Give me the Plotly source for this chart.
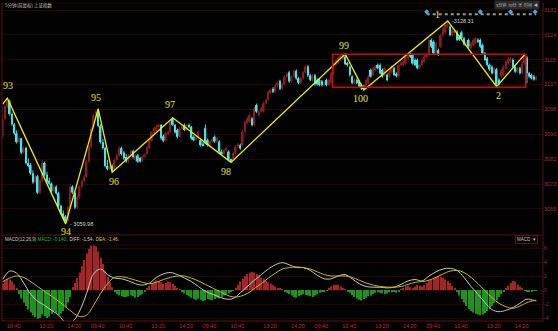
import plotly.graph_objects as go

# ---------------- data ----------------
open_ = [
 3089.5,3095.5,3099.5,3101.3,3097.0,3093.5,3090.5,3087.5,3088.8,3084.0,
 3085.5,3080.5,3079.8,3077.0,3074.0,3076.0,3070.5,3074.5,3080.5,3076.5,
 3074.5,3073.5,3071.0,3072.5,3070.3,3066.0,3063.5,3062.5,3061.0,3065.5,
 3072.5,3070.5,3065.5,3069.0,3072.5,3074.5,3075.8,3081.0,3086.0,3092.5,
 3096.5,3097.8,3093.0,3087.5,3085.5,3079.5,3078.5,3079.5,3078.0,3081.5,
 3083.0,3085.5,3084.0,3082.5,3081.0,3083.0,3084.5,3081.5,3083.0,3082.2,
 3081.0,3082.6,3083.5,3085.5,3088.0,3090.6,3091.2,3092.6,3093.3,3089.5,
 3088.2,3090.5,3091.0,3095.3,3093.3,3091.6,3089.5,3092.0,3093.3,3091.6,
 3093.3,3092.7,3089.3,3088.2,3089.0,3088.2,3087.0,3092.2,3088.2,3086.5,
 3087.7,3089.3,3087.7,3087.7,3084.3,3083.5,3084.9,3084.3,3081.5,3081.5,
 3083.8,3086.0,3086.5,3086.5,3091.0,3094.0,3094.4,3095.5,3093.3,3100.0,
 3096.6,3097.8,3097.8,3100.6,3101.7,3104.0,3105.4,3104.5,3106.5,3108.0,
 3105.5,3107.0,3109.5,3111.0,3108.0,3109.5,3111.5,3109.0,3107.5,3109.0,
 3111.0,3113.0,3110.0,3108.5,3110.0,3108.5,3108.4,3108.0,3106.7,3108.4,
 3106.8,3107.5,3110.7,3113.5,3114.2,3115.4,3115.5,3116.3,3114.0,3112.9,
 3109.6,3107.4,3108.4,3107.9,3106.7,3106.2,3105.7,3107.3,3111.8,3110.1,
 3111.8,3113.5,3113.5,3111.8,3110.1,3110.1,3109.6,3111.0,3112.4,3110.5,
 3109.6,3113.5,3113.5,3114.0,3115.7,3117.0,3116.9,3115.2,3115.2,3112.4,
 3113.5,3114.6,3116.0,3117.0,3121.9,3121.3,3117.4,3118.5,3119.7,3123.5,
 3124.5,3126.5,3126.4,3123.6,3124.5,3124.7,3123.0,3124.5,3122.5,3120.5,
 3121.9,3119.1,3120.2,3120.8,3122.0,3121.9,3120.2,3117.4,3115.7,3113.5,
 3112.9,3110.7,3112.0,3108.5,3109.6,3110.1,3112.4,3114.0,3114.6,3115.2,
 3112.9,3111.2,3112.4,3110.7,3114.0,3116.0,3110.7,3110.1,3109.6,3108.6]
close = [
 3095.5,3099.5,3101.5,3097.0,3093.5,3090.5,3087.5,3088.8,3084.0,3085.5,
 3080.5,3079.5,3077.0,3074.0,3076.0,3070.5,3074.5,3080.5,3076.5,3074.0,
 3073.5,3071.0,3072.5,3070.3,3066.0,3063.5,3062.0,3061.0,3065.5,3072.5,
 3070.5,3065.5,3069.0,3072.5,3074.5,3075.8,3081.0,3086.0,3092.0,3096.5,
 3097.8,3093.0,3087.5,3085.5,3079.5,3078.5,3079.5,3078.0,3081.5,3083.0,
 3085.5,3083.5,3082.0,3081.0,3083.0,3084.5,3082.5,3083.0,3081.0,3081.0,
 3082.6,3083.3,3085.8,3088.0,3090.8,3092.2,3092.6,3093.3,3088.8,3088.0,
 3090.5,3091.0,3094.8,3093.3,3090.8,3089.3,3092.0,3092.8,3091.6,3093.3,
 3092.7,3088.8,3088.2,3089.0,3091.0,3086.5,3086.5,3087.1,3086.5,3087.7,
 3088.5,3087.7,3088.8,3084.3,3083.5,3084.9,3085.4,3081.5,3081.2,3083.8,
 3086.0,3086.8,3085.4,3091.0,3094.4,3095.5,3096.6,3093.3,3098.9,3097.8,
 3097.8,3099.0,3100.6,3101.7,3104.5,3105.1,3104.5,3106.5,3107.5,3105.5,
 3107.0,3109.5,3110.5,3108.0,3109.5,3111.5,3109.0,3107.5,3109.0,3111.0,
 3113.0,3110.0,3108.5,3110.0,3107.0,3107.0,3106.8,3106.7,3107.6,3106.8,
 3108.4,3110.7,3113.8,3115.2,3116.0,3116.6,3117.0,3113.8,3113.5,3110.1,
 3107.4,3108.4,3107.4,3106.2,3105.6,3105.7,3108.4,3109.6,3109.6,3112.4,
 3112.9,3112.4,3110.7,3109.6,3112.4,3108.4,3111.2,3112.9,3110.1,3109.8,
 3113.5,3114.0,3114.6,3116.3,3116.9,3116.3,3114.0,3113.5,3112.4,3113.5,
 3115.2,3116.3,3117.0,3121.9,3119.7,3117.4,3120.8,3116.9,3123.5,3125.8,
 3127.0,3127.2,3123.6,3125.3,3125.0,3121.9,3122.0,3122.5,3120.5,3121.3,
 3119.7,3120.8,3121.9,3122.5,3121.3,3119.7,3117.4,3115.2,3113.5,3112.0,
 3110.7,3112.4,3107.0,3107.3,3111.8,3112.9,3114.6,3115.5,3115.7,3112.9,
 3111.2,3112.4,3110.7,3114.0,3117.0,3110.7,3109.6,3109.0,3108.6,3109.4]
high = [
 3096.5,3100.2,3102.3,3101.8,3097.5,3094.0,3091.5,3089.5,3089.0,3086.2,
 3086.0,3082.0,3080.5,3078.0,3076.5,3076.5,3075.0,3081.5,3081.0,3077.5,
 3075.5,3074.0,3073.0,3073.0,3070.8,3066.5,3064.5,3063.0,3066.0,3073.5,
 3073.0,3071.0,3069.5,3073.0,3075.0,3076.5,3081.5,3086.5,3092.5,3097.0,
 3098.3,3098.7,3093.5,3088.5,3086.0,3081.5,3080.0,3080.0,3082.0,3084.0,
 3086.2,3086.0,3084.5,3083.5,3083.5,3085.0,3085.0,3083.5,3083.5,3082.6,
 3083.0,3083.8,3086.3,3088.5,3091.3,3092.8,3093.2,3093.8,3093.6,3090.0,
 3091.0,3091.6,3095.2,3095.7,3093.6,3092.0,3092.5,3093.3,3093.8,3093.8,
 3093.8,3093.0,3089.8,3089.6,3091.5,3088.7,3087.6,3093.5,3088.7,3088.2,
 3089.0,3089.8,3089.3,3088.2,3085.0,3085.4,3085.9,3084.8,3082.0,3084.3,
 3086.5,3087.3,3087.0,3091.5,3094.9,3096.0,3097.1,3096.0,3099.4,3100.5,
 3098.3,3099.5,3101.1,3102.2,3105.0,3105.6,3106.0,3107.0,3108.0,3108.5,
 3107.5,3110.0,3111.0,3111.5,3110.0,3112.0,3112.0,3109.5,3109.5,3111.5,
 3113.5,3113.5,3110.5,3110.5,3110.5,3109.0,3108.9,3108.5,3108.2,3108.9,
 3108.9,3111.2,3114.3,3115.7,3116.5,3117.0,3117.2,3117.2,3114.5,3113.3,
 3110.0,3108.9,3108.9,3108.4,3107.2,3106.8,3108.9,3110.1,3112.3,3112.9,
 3113.4,3114.0,3114.0,3112.3,3112.9,3110.6,3111.7,3113.4,3112.9,3111.0,
 3114.0,3114.5,3115.1,3116.8,3117.4,3117.5,3117.4,3115.7,3115.7,3114.0,
 3115.7,3116.8,3117.5,3122.4,3122.4,3121.8,3121.3,3119.0,3124.0,3126.3,
 3127.5,3128.31,3126.8,3125.8,3125.5,3125.2,3123.5,3125.0,3123.0,3121.8,
 3122.4,3121.3,3122.4,3123.0,3122.5,3122.4,3120.7,3117.9,3116.2,3114.0,
 3113.4,3112.9,3112.5,3109.0,3112.3,3113.4,3115.1,3116.0,3116.2,3115.7,
 3113.4,3112.9,3112.9,3114.5,3117.5,3116.5,3111.2,3110.6,3110.1,3109.9]
low = [
 3088.5,3095.0,3099.0,3096.5,3093.0,3090.0,3087.0,3087.0,3083.5,3083.5,
 3080.0,3079.0,3076.5,3073.5,3073.5,3070.0,3070.0,3074.0,3076.0,3073.5,
 3073.0,3070.5,3070.5,3069.8,3065.5,3063.0,3061.5,3059.98,3060.5,3065.0,
 3070.0,3065.0,3065.0,3068.5,3072.0,3074.0,3075.5,3080.5,3085.5,3092.0,
 3095.5,3092.5,3087.0,3085.0,3079.0,3078.0,3078.0,3077.4,3077.8,3081.0,
 3082.5,3083.0,3081.5,3080.5,3080.5,3082.5,3082.0,3081.0,3080.5,3080.6,
 3080.8,3082.2,3083.2,3085.2,3087.6,3090.2,3090.8,3092.0,3088.3,3087.5,
 3087.8,3089.9,3090.6,3092.9,3090.4,3088.8,3089.0,3091.5,3091.2,3091.2,
 3092.2,3088.3,3087.8,3087.9,3088.6,3086.0,3086.0,3086.8,3086.0,3086.2,
 3087.3,3087.3,3087.2,3083.9,3083.0,3083.2,3084.3,3081.0,3080.7,3081.2,
 3083.5,3085.5,3085.0,3086.0,3090.6,3093.5,3094.0,3092.8,3092.8,3097.3,
 3096.1,3097.4,3097.4,3100.2,3101.3,3103.6,3104.0,3104.0,3106.0,3105.0,
 3105.0,3106.5,3109.0,3107.5,3107.5,3109.0,3108.5,3107.0,3107.0,3108.5,
 3110.5,3109.5,3108.0,3108.0,3106.5,3106.5,3106.3,3106.2,3106.3,3106.3,
 3106.4,3107.0,3110.2,3113.0,3113.8,3115.0,3115.2,3113.4,3113.0,3109.6,
 3107.0,3107.0,3107.0,3105.8,3105.1,3105.1,3105.3,3107.0,3109.2,3109.8,
 3111.4,3112.0,3110.3,3109.2,3109.6,3108.0,3109.2,3110.6,3109.7,3109.3,
 3109.2,3113.0,3113.0,3113.6,3115.3,3115.8,3113.6,3113.0,3112.0,3112.0,
 3113.0,3114.2,3115.6,3116.6,3119.2,3117.0,3117.0,3116.5,3119.2,3123.0,
 3124.0,3126.0,3123.2,3123.2,3124.0,3121.5,3121.6,3122.0,3120.0,3120.0,
 3119.2,3118.7,3119.8,3120.4,3120.9,3119.2,3117.0,3114.8,3113.0,3111.5,
 3110.3,3110.3,3106.2,3106.8,3109.2,3109.7,3112.0,3113.6,3114.2,3112.5,
 3110.8,3110.8,3110.3,3110.3,3113.6,3107.4,3109.2,3108.6,3108.2,3108.2]

macd_hist = [
 0.9,1.3,1.6,1.5,1.2,0.8,0.3,-0.6,-1.2,-1.8,
 -2.3,-2.8,-3.2,-3.6,-3.9,-4.1,-4.0,-3.5,-3.7,-4.0,
 -3.8,-3.4,-3.0,-3.3,-3.6,-3.4,-3.0,-2.5,-1.8,-1.0,
 0.4,1.0,1.7,2.5,3.4,4.3,5.2,5.9,6.4,6.6,
 6.2,5.5,4.6,3.7,2.8,1.9,1.1,0.4,-0.3,-0.6,
 -0.8,-0.9,-1.0,-1.0,-0.9,-0.8,-0.9,-1.1,-1.0,-0.8,
 -0.6,-0.3,0.2,0.6,0.9,1.2,1.4,1.3,1.1,0.9,
 1.0,1.2,1.1,0.9,0.6,0.3,0.1,-0.2,-0.5,-0.7,
 -0.9,-1.1,-1.3,-1.4,-1.2,-1.4,-1.6,-1.5,-1.3,-1.4,
 -1.5,-1.3,-1.1,-1.2,-1.0,-0.8,-0.6,-0.5,-0.3,-0.1,
 0.3,0.7,1.2,1.6,2.0,2.3,2.5,2.6,2.5,2.3,
 2.1,1.8,1.6,1.3,1.1,0.9,0.7,0.5,0.3,0.2,
 0.1,-0.2,-0.4,-0.6,-0.8,-1.0,-1.1,-0.9,-0.7,-0.6,
 -0.7,-0.8,-0.9,-1.0,-0.8,-0.6,-0.4,-0.3,-0.2,-0.1,
 0.2,0.5,0.7,0.8,0.7,0.5,0.3,0.1,-0.2,-0.4,
 -0.7,-1.0,-1.2,-1.4,-1.5,-1.3,-1.1,-0.9,-0.8,-0.6,
 -0.4,-0.3,-0.4,-0.5,-0.6,-0.5,-0.3,-0.2,-0.3,-0.4,
 -0.2,0.1,0.3,0.5,0.6,0.4,0.3,0.5,0.7,0.6,
 0.5,0.7,1.0,1.3,1.5,1.6,1.8,2.0,1.9,1.7,
 1.5,1.3,1.0,0.6,0.2,-0.3,-0.8,-1.3,-1.8,-2.3,
 -2.7,-3.0,-3.2,-3.4,-3.5,-3.6,-3.5,-3.3,-3.0,-2.7,
 -2.3,-1.9,-1.5,-1.0,-0.6,-0.2,0.2,0.6,1.0,1.3,
 1.2,0.8,0.5,0.2,-0.1,-0.2,-0.2,-0.15,-0.14,-0.14]

line_bars = list(range(0, 229, 3)) + [229]
diff_vals = [
 1.5,2.7,2.4,1.0,-0.6,-1.6,-2.2,-2.9,-3.6,-4.6,
 -4.5,-3.0,-0.5,2.3,3.0,2.2,1.7,1.6,1.3,0.9,
 0.7,1.0,1.8,2.3,2.5,2.2,1.7,1.2,0.5,-0.2,
 -0.6,-1.0,-1.3,-1.2,-0.4,0.5,1.4,2.2,3.0,3.6,
 3.9,3.6,3.2,3.2,2.8,2.1,1.6,1.6,2.0,2.2,
 1.6,0.9,0.5,0.4,0.4,0.3,0.4,0.8,1.3,1.5,
 1.3,2.0,2.6,3.0,3.1,2.8,1.8,0.5,-0.6,-1.8,
 -2.8,-3.1,-2.9,-2.5,-1.9,-1.3,-1.5,-1.54]
dea_vals = [
 1.2,1.7,2.0,1.8,1.2,0.5,-0.2,-0.9,-1.6,-2.4,
 -3.2,-3.8,-3.6,-2.2,-0.5,0.9,1.8,1.9,1.7,1.4,
 1.1,0.9,1.1,1.5,1.8,2.0,2.0,1.7,1.3,0.8,
 0.3,-0.2,-0.7,-1.0,-0.9,-0.5,0.2,0.9,1.7,2.4,
 3.0,3.2,3.3,3.2,3.0,2.6,2.2,2.0,2.0,2.0,
 1.8,1.4,1.0,0.7,0.5,0.4,0.4,0.5,0.8,1.1,
 1.2,1.4,1.8,2.3,2.7,2.8,2.5,1.8,0.9,-0.1,
 -1.1,-1.9,-2.4,-2.6,-2.3,-1.8,-1.5,-1.46]

zig_bars = [0, 2, 27, 41, 47, 73, 98, 147, 155, 191, 212, 224]
zig_prices = [3100.3, 3102.3, 3059.98, 3098.7, 3077.4, 3095.7, 3080.7,
              3117.2, 3105.1, 3128.31, 3106.2, 3117.0]
zig_labels = ["", "93", "94", "95", "96", "97", "98", "99", "100", "1", "2", ""]

box_bars = [141.6, 224.5]
box_prices = [3106.0, 3117.1]

high_bar, high_price = 191, 3128.31
low_bar, low_price = 27, 3059.98

info_bars = [182, 205, 218, 228.5]
info_price = 3130.6

time_tick_bars = [3, 17, 29, 39, 51, 65, 77, 87, 99, 113, 125, 135, 147, 161,
                  173, 183, 195, 209, 221]
time_tick_text = ["10:40", "13:20", "14:20", "09:40", "10:40", "13:20", "14:20",
                  "09:40", "10:40", "13:20", "14:20", "09:40", "10:40", "13:20",
                  "14:20", "09:40", "10:40", "13:20", "14:20"]
price_tick_vals = [3132.0, 3123.6, 3115.25, 3106.9, 3098.5, 3090.1, 3081.75,
                   3073.4, 3065.0]
price_tick_text = ["3132", "3124", "3115", "3107", "3098", "3090", "3082",
                   "3073", "3065"]
macd_tick_vals = [6, 4, 2, 0, -2, -4]
macd_tick_text = ["6", "4", "2", "0", "-2", "-4"]

assert len(open_) == len(close) == len(high) == len(low) == len(macd_hist) == 230
assert len(diff_vals) == len(dea_vals) == len(line_bars)

# ---------------- styling ----------------
W, H = 558, 331
ML, MR, MT, MB = 2, 15, 3, 10
PH = H - MT - MB
def py(pix):          # pixel row -> paper fraction
    return (H - MB - pix) / PH
def px(pix):          # pixel column -> paper fraction
    return (pix - ML) / (W - ML - MR)

RED_UP = "#8a1c1c"
CYAN = "#46e4ea"
GRID = "#270505"
BORDER = "#5c1212"
YEL = "#f2f000"

bars = list(range(len(close)))
fig = go.Figure()

# candle wicks
for up, col in ((True, RED_UP), (False, CYAN)):
    xs, ys = [], []
    for i in bars:
        if (close[i] >= open_[i]) == up:
            xs += [i, i, None]
            ys += [low[i], high[i], None]
    fig.add_trace(go.Scatter(x=xs, y=ys, mode="lines", xaxis="x2", yaxis="y2",
                             line=dict(color=col, width=1), hoverinfo="skip",
                             showlegend=False))
# candle bodies
for up, col in ((True, RED_UP), (False, CYAN)):
    idx = [i for i in bars if (close[i] >= open_[i]) == up]
    base = [min(open_[i], close[i]) for i in idx]
    hgt = [max(abs(close[i] - open_[i]), 0.3) for i in idx]
    fig.add_trace(go.Bar(x=idx, y=hgt, base=base, width=0.72, xaxis="x2", yaxis="y2",
                         marker=dict(color=col, line=dict(width=0)),
                         hoverinfo="skip", showlegend=False))

# zigzag wave line
fig.add_trace(go.Scatter(x=zig_bars, y=zig_prices, mode="lines", xaxis="x2", yaxis="y2",
                         line=dict(color=YEL, width=1.3), hoverinfo="skip",
                         showlegend=False))

# info marker row at top
fig.add_trace(go.Scatter(x=[info_bars[0], bars[-1]], y=[info_price, info_price],
                         mode="lines", xaxis="x2", yaxis="y2",
                         line=dict(color="#9a9a9a", width=2, dash="dot"),
                         hoverinfo="skip", showlegend=False))
fig.add_trace(go.Scatter(x=info_bars, y=[info_price + 0.8] * len(info_bars),
                         mode="markers", xaxis="x2", yaxis="y2",
                         marker=dict(color="#4aa6e6", size=4, symbol="diamond"),
                         hoverinfo="skip", showlegend=False))

# MACD histogram
pos = [i for i in bars if macd_hist[i] >= 0]
neg = [i for i in bars if macd_hist[i] < 0]
fig.add_trace(go.Bar(x=pos, y=[macd_hist[i] for i in pos], width=0.45,
                     marker=dict(color="#a82424", line=dict(width=0)),
                     xaxis="x", yaxis="y", hoverinfo="skip", showlegend=False))
fig.add_trace(go.Bar(x=neg, y=[macd_hist[i] for i in neg], width=0.45,
                     marker=dict(color="#1c941c", line=dict(width=0)),
                     xaxis="x", yaxis="y", hoverinfo="skip", showlegend=False))
fig.add_trace(go.Scatter(x=line_bars, y=diff_vals, mode="lines", xaxis="x", yaxis="y",
                         line=dict(color="#c8c8c8", width=1, shape="spline"),
                         hoverinfo="skip", showlegend=False))
fig.add_trace(go.Scatter(x=line_bars, y=dea_vals, mode="lines", xaxis="x", yaxis="y",
                         line=dict(color="#c8b820", width=1, shape="spline"),
                         hoverinfo="skip", showlegend=False))

# wave labels
lab_shift = {"93": (1, 13), "94": (0, -8), "95": (-2, 11), "96": (2, -9),
             "97": (-3, 13), "98": (-5, -9), "99": (-1, 8), "100": (-3, -9),
             "1": (-10, 6), "2": (2, -9)}
ann = []
for b, p, t in zip(zig_bars, zig_prices, zig_labels):
    if not t:
        continue
    dx, dy = lab_shift[t]
    ann.append(dict(x=b, y=p, xref="x2", yref="y2", text=t, showarrow=False,
                    xshift=dx, yshift=dy,
                    font=dict(family="Liberation Serif", size=10, color="#e8e428")))
ann.append(dict(x=high_bar, y=high_price, xref="x2", yref="y2",
                text="-" + f"{high_price:.2f}", showarrow=False, xanchor="left",
                xshift=2, font=dict(family="Liberation Sans", size=5.5, color="#d8d8d8")))
ann.append(dict(x=low_bar, y=low_price, xref="x2", yref="y2",
                text="- " + f"{low_price:.2f}", showarrow=False, xanchor="left",
                xshift=2, font=dict(family="Liberation Sans", size=5.5, color="#d8d8d8")))
# title / panel texts
ann.append(dict(x=0.002, y=py(5), xref="paper", yref="paper", xanchor="left",
                yanchor="middle", text="5分钟(前复权) 上证指数", showarrow=False,
                font=dict(family="Noto Sans CJK SC", size=4.5, color="#c8c8c8")))
macd_txt = ("<span style='color:#c8c8c8'>MACD(12,26,9)</span> "
            "<span style='color:#22c022'>MACD: -0.140</span><span style='color:#3aa0ff'>↓</span> "
            "<span style='color:#d8d8d8'>DIFF: -1.54</span><span style='color:#3aa0ff'>↓</span> "
            "<span style='color:#e0d020'>DEA: -1.46</span><span style='color:#3aa0ff'>↓</span>")
ann.append(dict(x=0.002, y=py(239.5), xref="paper", yref="paper", xanchor="left",
                yanchor="middle", text=macd_txt, showarrow=False,
                font=dict(family="Liberation Sans", size=4.5)))
ann.append(dict(x=0.99, y=py(239.5), xref="paper", yref="paper", xanchor="right",
                yanchor="middle", text="MACD  ▾", showarrow=False,
                bordercolor="#5c1212", borderwidth=1, borderpad=1,
                font=dict(family="Liberation Sans", size=4.5, color="#c8c8c8")))
ann.append(dict(x=px(540), y=py(4.5), xref="paper", yref="paper", xanchor="right",
                yanchor="middle", text="5分钟  70分  ▣  时间  ◀", showarrow=False,
                bgcolor="#2a2a2a",
                font=dict(family="Noto Sans CJK SC", size=4, color="#bdbdbd")))

shapes = [
    dict(type="rect", xref="x2", yref="y2", x0=box_bars[0], x1=box_bars[1],
         y0=box_prices[0], y1=box_prices[1], line=dict(color="#c80c0c", width=1.6)),
    dict(type="line", xref="paper", yref="paper", x0=0, x1=1, y0=py(235), y1=py(235),
         line=dict(color=BORDER, width=1)),
    dict(type="line", xref="paper", yref="paper", x0=0, x1=1, y0=py(245), y1=py(245),
         line=dict(color=GRID, width=1)),
    dict(type="line", xref="paper", yref="paper", x0=0, x1=1, y0=0, y1=0,
         line=dict(color=BORDER, width=1)),
    dict(type="line", xref="paper", yref="paper", x0=0, x1=1, y0=1, y1=1,
         line=dict(color=GRID, width=1)),
    dict(type="line", xref="paper", yref="paper", x0=1, x1=1, y0=0, y1=1,
         line=dict(color=BORDER, width=1)),
    dict(type="line", xref="paper", yref="paper", x0=0, x1=0, y0=0, y1=1,
         line=dict(color=BORDER, width=1)),
]

xr = [-0.3, 231.9]
main_dom = [py(232), 1.0]
macd_dom = [0.0, py(245)]
ptop, pbot = 3134.36, 3057.25
zero_pix = 290.0
ppu = 7.0
mtop = (zero_pix - 245) / ppu
mbot = -((H - MB) - zero_pix) / ppu

fig.update_layout(
    width=W, height=H, margin=dict(l=ML, r=MR, t=MT, b=MB),
    paper_bgcolor="black", plot_bgcolor="black", barmode="overlay",
    showlegend=False, annotations=ann, shapes=shapes,
    xaxis=dict(domain=[0, 1], anchor="y", range=xr, showgrid=False, zeroline=False,
               showline=False, tickmode="array", tickvals=time_tick_bars,
               ticktext=time_tick_text, ticks="", ticklabelshift=4,
               tickfont=dict(family="Liberation Sans", size=5.5, color="#d82020")),
    xaxis2=dict(domain=[0, 1], anchor="y2", matches="x", range=xr, showgrid=False,
                zeroline=False, showline=False, showticklabels=False, ticks=""),
    yaxis=dict(domain=macd_dom, anchor="x", side="right", range=[mbot, mtop],
               tickmode="array", tickvals=macd_tick_vals, ticktext=macd_tick_text,
               showgrid=True, gridcolor=GRID, gridwidth=1, zeroline=False,
               showline=False, ticks="",
               tickfont=dict(family="Liberation Sans", size=5, color="#a83030")),
    yaxis2=dict(domain=main_dom, anchor="x2", side="right", range=[pbot, ptop],
                tickmode="array", tickvals=price_tick_vals, ticktext=price_tick_text,
                showgrid=True, gridcolor=GRID, gridwidth=1, zeroline=False,
                showline=False, ticks="",
                tickfont=dict(family="Liberation Sans", size=5.5, color="#a83030")),
)

fig.write_html("out.html")
